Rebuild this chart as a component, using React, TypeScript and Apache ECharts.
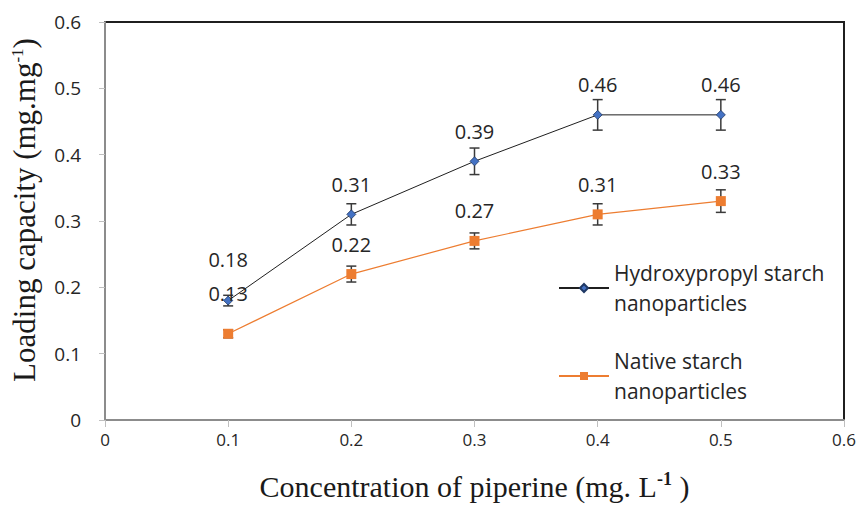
import React, { useEffect, useRef } from "react";
import * as echarts from "echarts";

const xValues = [0.1, 0.2, 0.3, 0.4, 0.5];
const hpsValues = [0.18, 0.31, 0.39, 0.46, 0.46];
const hpsErrors = [0.008, 0.016, 0.02, 0.023, 0.023];
const nativeValues = [0.13, 0.22, 0.27, 0.31, 0.33];
const nativeErrors = [0.006, 0.012, 0.012, 0.016, 0.017];
const hpsName = "Hydroxypropyl starch nanoparticles";
const nativeName = "Native starch nanoparticles";

const SANS = "'Open Sans', Lato, sans-serif";
const SERIF = "'Liberation Serif', 'DejaVu Serif', serif";

function errorSeries(values: number[], errors: number[], name: string) {
  const data = xValues.map((x, i) => [x, values[i] - errors[i], values[i] + errors[i]]);
  return {
    type: "custom",
    name: name + "_err",
    data,
    z: 3,
    renderItem: (params: any, api: any) => {
      const x = api.value(0);
      const lo = api.coord([x, api.value(1)]);
      const hi = api.coord([x, api.value(2)]);
      const cap = 5;
      const style = { stroke: "#3a3a3a", lineWidth: 1.5 };
      return {
        type: "group",
        children: [
          { type: "line", shape: { x1: lo[0], y1: lo[1], x2: hi[0], y2: hi[1] }, style },
          { type: "line", shape: { x1: lo[0] - cap, y1: lo[1], x2: lo[0] + cap, y2: lo[1] }, style },
          { type: "line", shape: { x1: hi[0] - cap, y1: hi[1], x2: hi[0] + cap, y2: hi[1] }, style },
        ],
      };
    },
    silent: true,
  };
}

export default function App() {
  const ref = useRef<HTMLDivElement>(null);
  useEffect(() => {
    if (!ref.current) return;
    const chart = echarts.init(ref.current, null, { renderer: "svg" });
    const labelStyle = {
      show: true,
      position: "top",
      distance: 15,
      fontSize: 20,
      lineHeight: 20,
      color: "#262626",
      fontFamily: SANS,
      formatter: (p: any) => p.value[1].toFixed(2),
    };
    chart.setOption({
      animation: false,
      backgroundColor: "#ffffff",
      grid: {
        left: 105,
        right: 21,
        top: 22,
        bottom: 91,
        show: true,
        borderColor: "#1f1f1f",
        borderWidth: 2,
      },
      legend: {
        orient: "vertical",
        left: 553,
        top: 238,
        itemWidth: 50,
        itemHeight: 10,
        itemGap: -2,
        data: [hpsName, nativeName],
        formatter: (name: string) =>
          name === hpsName ? "Hydroxypropyl starch\nnanoparticles" : "Native starch\nnanoparticles",
        textStyle: {
          fontSize: 21,
          lineHeight: 30,
          color: "#262626",
          fontFamily: SANS,
          padding: [30, 0, 0, 0],
        },
      },
      xAxis: {
        type: "value",
        min: 0,
        max: 0.6,
        interval: 0.1,
        splitLine: { show: false },
        axisLine: { show: true, onZero: false, lineStyle: { color: "#8c8c8c", width: 2 } },
        axisTick: { show: true, inside: false, length: 7, lineStyle: { color: "#bfbfbf", width: 1 } },
        axisLabel: {
          fontSize: 17,
          color: "#262626",
          fontFamily: SANS,
          margin: 11,
          showMaxLabel: true,
          showMinLabel: true,
        },
        name: "{a|Concentration of piperine (mg. L}{s|-1}{a| )}",
        nameLocation: "middle",
        nameGap: 49,
        nameTextStyle: {
          rich: {
            a: { fontSize: 30, fontFamily: SERIF, color: "#1a1a1a", lineHeight: 34 },
            s: { fontSize: 18, fontFamily: SERIF, color: "#1a1a1a", fontWeight: "bold", padding: [0, 0, 14, 0], lineHeight: 34 },
          },
        },
      },
      yAxis: {
        type: "value",
        min: 0,
        max: 0.6,
        interval: 0.1,
        splitLine: { show: false },
        axisLine: { show: true, onZero: false, lineStyle: { color: "#8c8c8c", width: 2 } },
        axisTick: { show: true, inside: false, length: 6, lineStyle: { color: "#bfbfbf", width: 1 } },
        axisLabel: {
          fontSize: 19,
          color: "#262626",
          fontFamily: SANS,
          margin: 24,
        },
        name: "{a|Loading capacity (mg.mg}{s|-1}{a|)}",
        nameLocation: "middle",
        nameGap: 64,
        nameTextStyle: {
          padding: [0, 0, 0, 22],
          rich: {
            a: { fontSize: 31, fontFamily: SERIF, color: "#1a1a1a", lineHeight: 34 },
            s: { fontSize: 17, fontFamily: SERIF, color: "#1a1a1a", padding: [0, 0, 13, 0], lineHeight: 34 },
          },
        },
      },
      series: [
        {
          name: hpsName,
          type: "line",
          data: xValues.map((x, i) => {
            const d: any = { value: [x, hpsValues[i]] };
            if (i === 0) d.label = { distance: 26 };
            return d;
          }),
          symbol: "diamond",
          symbolSize: 9,
          itemStyle: { color: "#4472C4", borderColor: "#1f3864", borderWidth: 0.8 },
          lineStyle: { color: "#1f1f1f", width: 1 },
          label: labelStyle,
          z: 4,
        },
        {
          name: nativeName,
          type: "line",
          data: xValues.map((x, i) => {
            const d: any = { value: [x, nativeValues[i]] };
            if (i === 0) d.label = { distance: 25 };
            return d;
          }),
          symbol: "rect",
          symbolSize: 10,
          itemStyle: { color: "#ED7D31" },
          lineStyle: { color: "#ED7D31", width: 1.2 },
          label: labelStyle,
          z: 4,
        },
        errorSeries(hpsValues, hpsErrors, hpsName),
        errorSeries(nativeValues, nativeErrors, nativeName),
      ],
    });
    return () => chart.dispose();
  }, []);
  return <div ref={ref} style={{ width: 865, height: 511, position: "absolute", left: 0, top: 0 }} />;
}
